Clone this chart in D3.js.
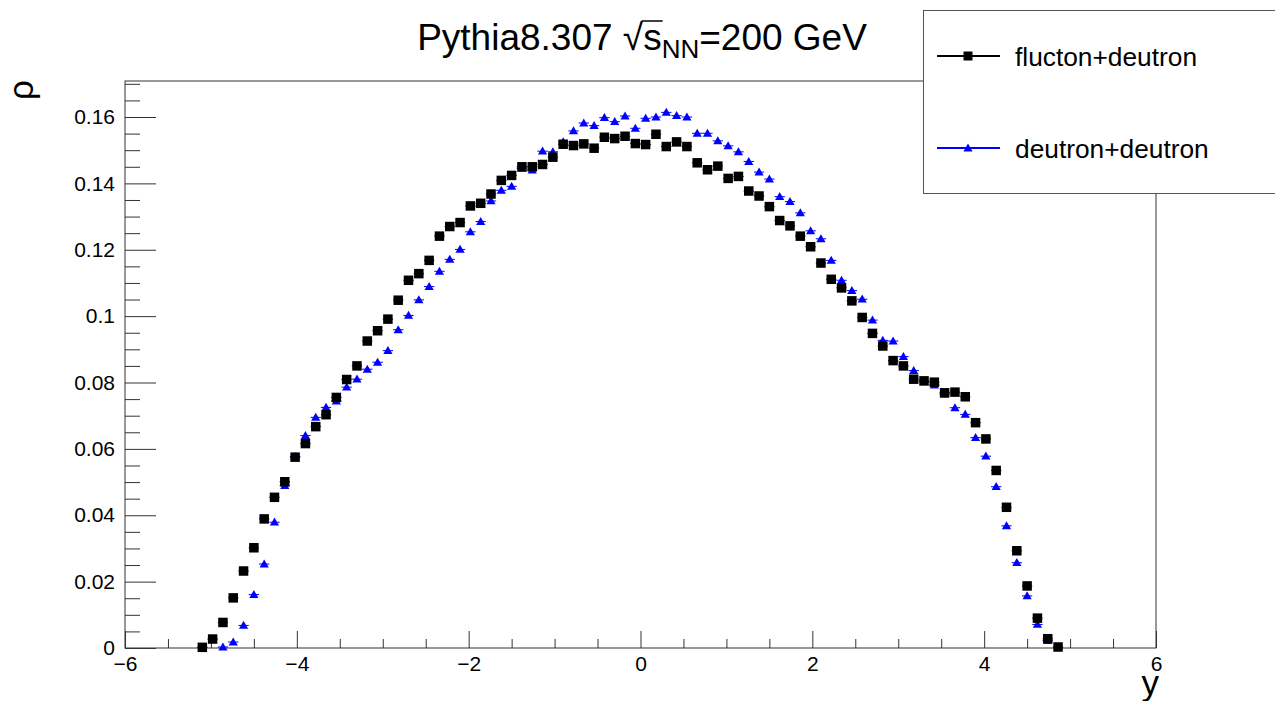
<!DOCTYPE html>
<html>
<head>
<meta charset="utf-8">
<script src="https://cdn.jsdelivr.net/npm/d3@7"></script>
<style>
  body { margin: 0; background: #fff; }
  text { font-family: "Liberation Sans", Arial, sans-serif; }
</style>
</head>
<body>
<svg id="chart" width="1275" height="701"></svg>
<script>
// bin centres (100 bins over -6..6), only the filled ones
const binCenters = [-5.10, -4.98, -4.86, -4.74, -4.62, -4.50, -4.38, -4.26, -4.14, -4.02,
  -3.90, -3.78, -3.66, -3.54, -3.42, -3.30, -3.18, -3.06, -2.94, -2.82,
  -2.70, -2.58, -2.46, -2.34, -2.22, -2.10, -1.98, -1.86, -1.74, -1.62,
  -1.50, -1.38, -1.26, -1.14, -1.02, -0.90, -0.78, -0.66, -0.54, -0.42,
  -0.30, -0.18, -0.06, 0.06, 0.18, 0.30, 0.42, 0.54, 0.66, 0.78,
  0.90, 1.02, 1.14, 1.26, 1.38, 1.50, 1.62, 1.74, 1.86, 1.98,
  2.10, 2.22, 2.34, 2.46, 2.58, 2.70, 2.82, 2.94, 3.06, 3.18,
  3.30, 3.42, 3.54, 3.66, 3.78, 3.90, 4.02, 4.14, 4.26, 4.38,
  4.50, 4.62, 4.74, 4.86];

// flucton+deutron
const fluctonDeutron = [0.0002, 0.0027, 0.0077, 0.0151, 0.0232, 0.0302, 0.0389, 0.0454, 0.0501, 0.0575,
  0.0616, 0.0667, 0.0703, 0.0755, 0.0809, 0.0850, 0.0925, 0.0956, 0.0991, 0.1048,
  0.1108, 0.1128, 0.1168, 0.1241, 0.1270, 0.1282, 0.1332, 0.1340, 0.1368, 0.1409,
  0.1424, 0.1450, 0.1450, 0.1457, 0.1479, 0.1518, 0.1514, 0.1519, 0.1506, 0.1539,
  0.1535, 0.1542, 0.1520, 0.1517, 0.1548, 0.1511, 0.1525, 0.1511, 0.1462, 0.1441,
  0.1452, 0.1415, 0.1421, 0.1377, 0.1362, 0.1330, 0.1288, 0.1272, 0.1241, 0.1209,
  0.1160, 0.1111, 0.1085, 0.1046, 0.0996, 0.0948, 0.0910, 0.0866, 0.0850, 0.0810,
  0.0805, 0.0801, 0.0769, 0.0771, 0.0757, 0.0679, 0.0630, 0.0535, 0.0424, 0.0293,
  0.0187, 0.0090, 0.0028, 0.0003];

// deutron+deutron (null = empty bin)
const deutronDeutron = [null, null, 0.0003, 0.0018, 0.0068, 0.0161, 0.0253, 0.0379, 0.0489, 0.0577,
  0.0640, 0.0695, 0.0725, 0.0744, 0.0786, 0.0810, 0.0840, 0.0861, 0.0896, 0.0959,
  0.1002, 0.1049, 0.1089, 0.1135, 0.1171, 0.1201, 0.1254, 0.1285, 0.1347, 0.1379,
  0.1391, 0.1445, 0.1440, 0.1497, 0.1495, 0.1525, 0.1558, 0.1582, 0.1574, 0.1598,
  0.1586, 0.1603, 0.1566, 0.1596, 0.1600, 0.1614, 0.1604, 0.1600, 0.1551, 0.1551,
  0.1528, 0.1513, 0.1495, 0.1466, 0.1434, 0.1413, 0.1360, 0.1345, 0.1311, 0.1257,
  0.1233, 0.1168, 0.1108, 0.1077, 0.1051, 0.0988, 0.0927, 0.0925, 0.0878, 0.0836,
  0.0802, 0.0792, 0.0765, 0.0724, 0.0704, 0.0634, 0.0578, 0.0486, 0.0368, 0.0257,
  0.0157, 0.0071, 0.0022, null];

const halfBin = 0.06;
const xMajor = [-6, -4, -2, 0, 2, 4, 6];
const xMinor = [-5.5, -5, -4.5, -3.5, -3, -2.5, -1.5, -1, -0.5, 0.5, 1, 1.5, 2.5, 3, 3.5, 4.5, 5, 5.5];
const yMajor = [0, 0.02, 0.04, 0.06, 0.08, 0.1, 0.12, 0.14, 0.16];
const yMinor = [0.005, 0.01, 0.015, 0.025, 0.03, 0.035, 0.045, 0.05, 0.055, 0.065, 0.07, 0.075,
  0.085, 0.09, 0.095, 0.105, 0.11, 0.115, 0.125, 0.13, 0.135, 0.145, 0.15, 0.155, 0.165, 0.17];

const svg = d3.select("#chart");
const L = 125, R = 1156, T = 81, B = 648;

let x = d3.scaleLinear().domain([-6, 6]).range([L, R]);
let y = d3.scaleLinear().domain([0, 0.17085]).range([B, T]);

svg.append("rect").attr("width", 1275).attr("height", 701).attr("fill", "#fff");

// frame
svg.append("rect")
  .attr("x", L).attr("y", T).attr("width", R - L).attr("height", B - T)
  .attr("fill", "none").attr("stroke", "#333").attr("stroke-width", 1);

// y axis (ticks point inside)
svg.append("g").attr("transform", "translate(" + L + ",0)")
  .call(d3.axisLeft(y).tickValues(yMajor).tickSize(-31).tickPadding(10)
    .tickFormat(d => d === 0 ? "0" : String(+d.toFixed(2))));
svg.append("g").attr("transform", "translate(" + L + ",0)")
  .call(d3.axisLeft(y).tickValues(yMinor).tickSize(-15).tickFormat(""));

svg.append("g").attr("transform", "translate(0," + B + ")")
  .call(d3.axisBottom(x).tickValues(xMajor).tickSize(-17).tickPadding(8));
svg.append("g").attr("transform", "translate(0," + B + ")")
  .call(d3.axisBottom(x).tickValues(xMinor).tickSize(-9).tickFormat(""));

svg.selectAll(".domain").remove();
svg.selectAll(".tick line").attr("stroke", "#333");
svg.selectAll(".tick text").attr("font-size", 21).attr("fill", "#000")
  .style("font-family", '"Liberation Sans", Arial, sans-serif');

// axis titles
svg.append("text").attr("transform", "translate(33,80) rotate(-90)")
  .attr("text-anchor", "end").attr("font-size", 35).text("ρ");
svg.append("text").attr("x", 1159).attr("y", 695)
  .attr("text-anchor", "end").attr("font-size", 35).text("y");

// title
let title = svg.append("text").attr("x", 642).attr("y", 50)
  .attr("text-anchor", "middle").attr("font-size", 37);
title.append("tspan").text("Pythia8.307 √");
title.append("tspan").text("s");
title.append("tspan").attr("font-size", 26).attr("dy", 8).text("NN");
title.append("tspan").attr("dy", -8).text("=200 GeV");
// overbar of the square root over the "s"
let tn = title.node();
let s0 = tn.getStartPositionOfChar(13), s1 = tn.getEndPositionOfChar(13);
svg.append("line").attr("x1", s0.x - 1).attr("x2", s1.x + 1)
  .attr("y1", 21).attr("y2", 21).attr("stroke", "#000").attr("stroke-width", 1.5);

function squarePath(size) {
  return d3.symbol().type(d3.symbolSquare).size(size * size)();
}
let triangle = "M0,-4.6L4.6,3.4L-4.6,3.4Z";

function drawSeries(vals, color, marker) {
  let pts = binCenters.map((c, i) => ({ x: c, v: vals[i] })).filter(d => d.v !== null);
  let g = svg.append("g");
  g.selectAll("line").data(pts).enter().append("line")
    .attr("x1", d => x(d.x - halfBin)).attr("x2", d => x(d.x + halfBin))
    .attr("y1", d => y(d.v)).attr("y2", d => y(d.v))
    .attr("stroke", color).attr("stroke-width", 1);
  g.selectAll("path").data(pts).enter().append("path")
    .attr("d", marker)
    .attr("transform", d => "translate(" + x(d.x) + "," + y(d.v) + ")")
    .attr("fill", color);
}

drawSeries(deutronDeutron, "#0000ff", triangle);
drawSeries(fluctonDeutron, "#000", squarePath(9.5));

// legend
let leg = svg.append("g");
leg.append("rect").attr("x", 923.5).attr("y", 10.5).attr("width", 360).attr("height", 183)
  .attr("fill", "#fff").attr("stroke", "#555").attr("stroke-width", 1);
let entries = [
  { label: "flucton+deutron", color: "#000", marker: squarePath(9), y: 56 },
  { label: "deutron+deutron", color: "#0000ff", marker: triangle, y: 148 }
];
entries.forEach(e => {
  leg.append("line").attr("x1", 937).attr("x2", 1000).attr("y1", e.y).attr("y2", e.y)
    .attr("stroke", e.color).attr("stroke-width", 2);
  leg.append("path").attr("d", e.marker).attr("fill", e.color)
    .attr("transform", "translate(968," + e.y + ")");
  leg.append("text").attr("x", 1015).attr("y", e.y + 9.5).attr("font-size", 26.3).text(e.label);
});
</script>
</body>
</html>
